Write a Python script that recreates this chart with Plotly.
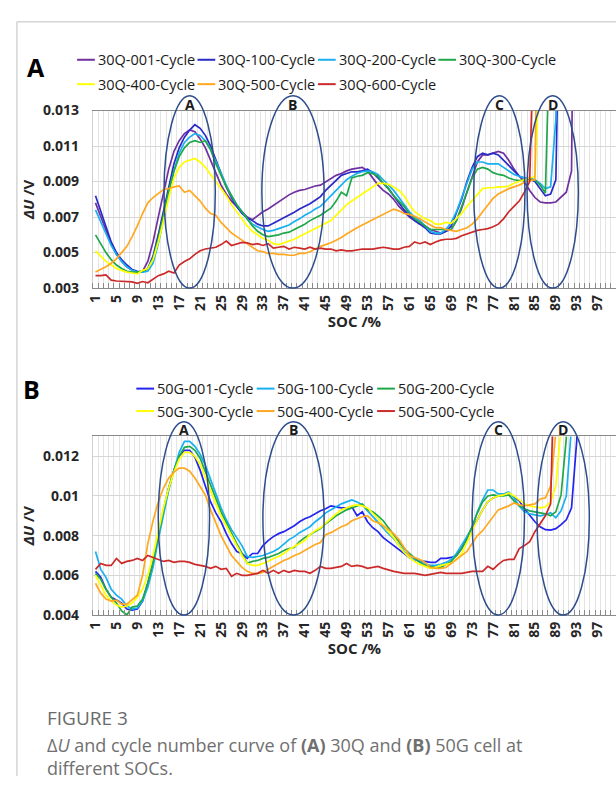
import plotly.graph_objects as go

W, H = 616, 785

# ---------------- data (values in mV) ----------------
soc = list(range(1, 101))
tick_soc = list(range(1, 100, 4))

names_a = ["30Q-001-Cycle", "30Q-100-Cycle", "30Q-200-Cycle", "30Q-300-Cycle",
           "30Q-400-Cycle", "30Q-500-Cycle", "30Q-600-Cycle"]
colors_a = ["#7030a0", "#2a2ac8", "#18b0f0", "#1fa84a", "#ffff00", "#ffa820", "#cc2a2a"]

q001 = [7.8, 7.0, 6.2, 5.5, 4.9, 4.5, 4.2, 4.0, 3.9, 3.95,
        4.5, 5.6, 7.0, 8.4, 9.7, 10.7, 11.3, 11.7, 11.9, 11.8,
        11.4, 10.9, 10.2, 9.4, 8.8, 8.3, 7.9, 7.6, 7.3, 7.0,
        6.85, 7.1, 7.3, 7.45, 7.65, 7.85, 8.1, 8.25, 8.4, 8.5,
        8.55, 8.65, 8.75, 8.8, 9.0, 9.2, 9.35, 9.45, 9.6, 9.7,
        9.75, 9.8, 9.6, 9.2, 8.8, 8.5, 8.3, 8.0, 7.6, 7.3,
        7.0, 6.8, 6.6, 6.5, 6.3, 6.2, 6.1, 6.2, 6.3, 6.8,
        7.5, 8.4, 9.3, 10.1, 10.5, 10.5, 10.6, 10.7, 10.6, 10.2,
        9.7, 9.3, 9.0, 8.5, 8.1, 7.85, 7.8, 7.8, 7.85, 8.1,
        8.4, 9.6, 40.0]
q100 = [8.2, 7.3, 6.4, 5.6, 5.0, 4.6, 4.3, 4.05, 3.95, 3.9,
        4.1, 4.8, 6.0, 7.4, 8.8, 10.0, 10.9, 11.5, 11.9, 12.2,
        12.0, 11.6, 11.0, 10.2, 9.4, 8.7, 8.1, 7.6, 7.2, 6.95,
        6.8, 6.6, 6.5, 6.5, 6.65, 6.8, 6.95, 7.1, 7.27, 7.45,
        7.6, 7.75, 7.95, 8.15, 8.5, 8.8, 9.05, 9.35, 9.45, 9.55,
        9.55, 9.6, 9.7, 9.5, 9.2, 8.9, 8.6, 8.2, 7.8, 7.4,
        7.1, 6.8, 6.6, 6.4, 6.1, 6.05, 6.05, 6.2, 6.5, 7.2,
        8.0, 9.0, 9.8, 10.4, 10.6, 10.5, 10.6, 10.5, 10.2, 9.9,
        9.6, 9.3, 9.2, 9.15, 9.0, 8.6, 8.2, 8.3, 9.1, 25.0]
q200 = [7.4, 6.7, 6.0, 5.4, 4.9, 4.5, 4.2, 4.0, 3.9, 3.9,
        3.95, 4.4, 5.5, 6.9, 8.3, 9.6, 10.6, 11.2, 11.5, 11.7,
        11.6, 11.3, 10.8, 10.1, 9.4, 8.8, 8.2, 7.7, 7.3, 6.9,
        6.6, 6.45, 6.3, 6.2, 6.25, 6.35, 6.45, 6.55, 6.75, 6.9,
        7.1, 7.25, 7.45, 7.6, 7.9, 8.2, 8.5, 8.8, 9.1, 9.3,
        9.45, 9.55, 9.6, 9.55, 9.4, 9.1, 8.8, 8.5, 8.1, 7.7,
        7.3, 7.0, 6.8, 6.5, 6.2, 6.1, 6.1, 6.3, 6.7, 7.3,
        8.1, 9.0, 9.7, 10.1, 10.1, 10.0, 10.0, 10.0, 9.8, 9.6,
        9.4, 9.3, 9.2, 9.15, 9.1, 8.9, 8.6, 8.7, 12.5, 30.0]
q300 = [6.0, 5.5, 5.0, 4.6, 4.3, 4.1, 3.95, 3.9, 3.9, 3.95,
        4.1, 4.7, 5.8, 7.1, 8.5, 9.6, 10.4, 10.9, 11.2, 11.3,
        11.2, 11.3, 10.8, 10.0, 9.3, 8.7, 8.2, 7.7, 7.3, 6.9,
        6.5, 6.2, 6.0, 5.9, 5.95, 6.0, 6.1, 6.15, 6.3, 6.45,
        6.6, 6.8, 6.95, 7.1, 7.3, 7.5, 7.9, 8.4, 8.2, 9.2,
        9.3, 9.35, 9.5, 9.45, 9.3, 8.9, 8.6, 8.2, 7.9, 7.6,
        7.2, 6.9, 6.7, 6.5, 6.3, 6.3, 6.3, 6.3, 6.3, 6.8,
        7.6, 8.4, 9.2, 9.7, 9.8, 9.7, 9.5, 9.4, 9.35, 9.2,
        9.1, 9.05, 9.1, 9.15, 9.1, 8.8, 8.35, 16.0, 30.0]
q400 = [5.1, 4.8, 4.5, 4.3, 4.1, 4.0, 3.9, 3.85, 3.8, 4.0,
        4.1, 4.6, 5.6, 6.8, 8.1, 9.2, 9.8, 10.1, 10.2, 10.3,
        10.1, 9.8, 9.4, 9.0, 8.6, 8.2, 7.7, 7.3, 6.9, 6.5,
        6.2, 6.0, 5.8, 5.7, 5.5, 5.45, 5.55, 5.65, 5.75, 5.9,
        6.05, 6.2, 6.35, 6.5, 6.65, 6.8, 7.1, 7.4, 7.7, 7.9,
        8.1, 8.3, 8.5, 8.75, 8.9, 8.9, 8.85, 8.7, 8.5, 8.2,
        7.7, 7.3, 7.1, 6.9, 6.8, 6.6, 6.6, 6.7, 6.65, 6.9,
        7.2, 7.6, 7.95, 8.3, 8.6, 8.65, 8.65, 8.7, 8.7, 8.75,
        8.9, 9.0, 9.1, 9.2, 9.3, 16.0, 30.0]
q500 = [3.9, 4.05, 4.2, 4.4, 4.65, 5.0, 5.35, 5.9, 6.5, 7.2,
        7.8, 8.1, 8.35, 8.55, 8.6, 8.7, 8.75, 8.4, 8.5, 8.2,
        7.9, 7.5, 7.2, 7.1, 6.7, 6.4, 6.1, 5.9, 5.7, 5.45,
        5.3, 5.1, 5.05, 4.95, 4.95, 4.9, 4.9, 4.85, 4.85, 4.95,
        4.95, 5.05, 5.2, 5.35, 5.45, 5.55, 5.7, 5.85, 6.05, 6.25,
        6.4, 6.55, 6.7, 6.85, 7.0, 7.15, 7.3, 7.45, 7.35, 7.2,
        7.15, 7.05, 6.9, 6.7, 6.55, 6.4, 6.4, 6.3, 6.25, 6.2,
        6.3, 6.4, 6.6, 6.9, 7.3, 7.7, 8.05, 8.3, 8.45, 8.6,
        8.7, 8.8, 8.95, 9.05, 9.1, 30.0]
q600 = [3.7, 3.7, 3.75, 3.45, 3.4, 3.37, 3.37, 3.35, 3.27, 3.37,
        3.3, 3.5, 3.7, 3.8, 3.95, 3.85, 4.3, 4.5, 4.65, 4.9,
        5.1, 5.2, 5.25, 5.3, 5.45, 5.65, 5.4, 5.5, 5.57, 5.55,
        5.45, 5.5, 5.4, 5.5, 5.25, 5.3, 5.35, 5.2, 5.3, 5.25,
        5.2, 5.3, 5.2, 5.25, 5.2, 5.2, 5.1, 5.15, 5.1, 5.1,
        5.15, 5.2, 5.2, 5.2, 5.25, 5.3, 5.25, 5.2, 5.2, 5.3,
        5.35, 5.6, 5.5, 5.6, 5.45, 5.6, 5.7, 5.75, 5.75, 5.8,
        5.95, 6.05, 6.15, 6.25, 6.3, 6.35, 6.45, 6.6, 6.9, 7.3,
        7.6, 7.9, 8.4, 9.0, 20.0]
series_a = [q001, q100, q200, q300, q400, q500, q600]

names_b = ["50G-001-Cycle", "50G-100-Cycle", "50G-200-Cycle",
           "50G-300-Cycle", "50G-400-Cycle", "50G-500-Cycle"]
colors_b = ["#2424f0", "#18b0f0", "#1fa84a", "#ffff00", "#ffa820", "#cc2a2a"]

g001 = [6.2, 5.9, 5.3, 4.9, 4.75, 4.6, 4.3, 4.25, 4.3, 4.7,
        5.6, 6.6, 8.0, 9.3, 10.4, 11.3, 12.0, 12.3, 12.3, 11.95,
        11.3, 10.5, 9.7, 9.15, 8.7, 8.1, 7.6, 7.2, 7.1, 6.85,
        7.1, 7.1, 7.5, 7.75, 7.95, 8.1, 8.2, 8.35, 8.5, 8.7,
        8.85, 8.95, 9.1, 9.25, 9.35, 9.5, 9.45, 9.4, 9.4, 9.45,
        9.0, 9.2, 8.7, 8.4, 8.2, 7.9, 7.7, 7.5, 7.3, 7.1,
        6.9, 6.8, 6.7, 6.7, 6.65, 6.65, 6.85, 6.85, 6.9, 7.0,
        7.35, 7.9, 8.4, 8.8, 9.3, 9.7, 9.9, 10.0, 10.1, 10.15,
        9.95, 9.75, 9.35, 9.0, 8.7, 8.45, 8.3, 8.28, 8.35, 8.55,
        8.8, 9.4, 12.8, 30.0]
g100 = [7.2, 6.3, 5.9, 5.3, 5.0, 4.8, 4.45, 4.3, 4.35, 4.7,
        5.4, 6.4, 7.8, 9.1, 10.3, 11.3, 12.2, 12.75, 12.75, 12.5,
        12.1, 11.55, 10.8, 10.1, 9.4, 8.8, 8.3, 7.9, 7.5, 6.95,
        6.9, 6.95, 7.0, 7.1, 7.2, 7.35, 7.6, 7.8, 7.95, 8.15,
        8.3, 8.45, 8.7, 8.9, 9.15, 9.3, 9.45, 9.6, 9.7, 9.8,
        9.7, 9.55, 9.25, 8.95, 8.7, 8.4, 8.1, 7.85, 7.5, 7.2,
        6.9, 6.8, 6.7, 6.55, 6.5, 6.5, 6.55, 6.65, 6.8, 7.1,
        7.5, 7.95, 8.4, 9.2, 9.8, 10.3, 10.3, 10.1, 10.1, 10.2,
        9.9, 9.5, 9.2, 9.1, 9.05, 9.0, 9.05, 9.15, 8.9, 9.25,
        10.0, 13.5, 30.0]
g200 = [6.1, 5.8, 5.3, 4.9, 4.6, 4.2, 4.0, 4.4, 4.45, 4.8,
        5.6, 6.7, 8.0, 9.3, 10.4, 11.3, 12.0, 12.45, 12.5, 12.3,
        11.9, 11.2, 10.5, 9.85, 9.2, 8.65, 8.1, 7.6, 7.1, 6.6,
        6.7, 6.75, 6.85, 6.9, 7.0, 7.1, 7.25, 7.35, 7.4, 7.7,
        7.9, 8.05, 8.2, 8.35, 8.6, 8.8, 9.0, 9.15, 9.3, 9.4,
        9.5, 9.6, 9.3, 9.2, 9.0, 8.75, 8.4, 8.05, 7.7, 7.35,
        7.1, 6.85, 6.65, 6.5, 6.45, 6.4, 6.4, 6.55, 6.7, 7.0,
        7.35, 7.8, 8.5, 9.15, 9.7, 10.0, 10.05, 10.0, 10.0, 10.05,
        9.75, 9.5, 9.35, 9.25, 9.2, 9.15, 9.1, 9.0, 9.2, 10.05,
        12.9, 30.0]
g300 = [6.0, 5.5, 5.0, 4.7, 4.5, 4.4, 4.45, 4.6, 4.9, 5.3,
        6.0, 7.0, 8.2, 9.4, 10.4, 11.2, 11.85, 12.2, 12.2, 12.0,
        11.6, 10.9, 10.2, 9.6, 9.0, 8.5, 8.0, 7.5, 7.0, 6.6,
        6.5, 6.5, 6.6, 6.7, 6.85, 6.95, 7.1, 7.3, 7.45, 7.6,
        7.75, 8.05, 8.25, 8.4, 8.65, 8.9, 9.1, 9.3, 9.4, 9.5,
        9.55, 9.5, 9.4, 9.15, 8.85, 8.5, 8.2, 7.9, 7.5, 7.15,
        6.9, 6.7, 6.55, 6.45, 6.35, 6.4, 6.5, 6.55, 6.6, 6.8,
        7.1, 7.65, 8.25, 8.8, 9.3, 9.7, 9.9, 10.0, 10.05, 10.15,
        10.0, 9.8, 9.6, 9.5, 9.45, 9.4, 9.45, 9.7, 10.5, 13.5,
        30.0]
g400 = [5.6, 5.1, 4.8, 4.7, 4.75, 4.55, 4.55, 4.8, 5.0, 6.0,
        7.6, 8.75, 9.7, 10.4, 10.9, 11.2, 11.4, 11.4, 11.25, 10.9,
        10.5, 10.05, 9.3, 8.6, 8.0, 7.5, 7.0, 6.7, 6.4, 6.2,
        6.1, 6.1, 6.15, 6.3, 6.45, 6.6, 6.75, 6.85, 7.0, 7.1,
        7.25, 7.4, 7.55, 7.65, 8.05, 8.15, 8.3, 8.45, 8.55, 8.75,
        8.85, 8.95, 9.0, 8.75, 8.65, 8.5, 8.3, 8.1, 7.8, 7.4,
        7.0, 6.9, 6.8, 6.65, 6.4, 6.35, 6.35, 6.4, 6.6, 6.8,
        7.0, 7.2, 7.6, 8.0, 8.25, 8.6, 8.9, 9.3, 9.4, 9.5,
        9.65, 9.55, 9.5, 9.55, 9.6, 9.85, 9.9, 10.5, 13.2, 30.0]
g500 = [6.3, 6.6, 6.5, 6.5, 6.85, 6.6, 6.7, 6.75, 6.85, 6.75,
        7.0, 6.9, 6.8, 6.7, 6.75, 6.65, 6.7, 6.7, 6.65, 6.55,
        6.5, 6.45, 6.35, 6.45, 6.3, 6.35, 5.95, 6.1, 6.0, 6.0,
        6.05, 6.1, 6.25, 6.1, 6.25, 6.1, 6.25, 6.15, 6.25, 6.2,
        6.2, 6.1, 6.25, 6.45, 6.35, 6.35, 6.4, 6.45, 6.6, 6.45,
        6.5, 6.45, 6.35, 6.4, 6.45, 6.35, 6.27, 6.2, 6.15, 6.1,
        6.1, 6.1, 6.05, 6.0, 6.05, 6.1, 6.15, 6.1, 6.1, 6.1,
        6.1, 6.15, 6.2, 6.2, 6.2, 6.45, 6.3, 6.55, 6.75, 6.8,
        6.8, 7.35, 7.5, 7.7, 8.2, 8.6, 9.0, 9.6, 15.0, 30.0]
series_b = [g001, g100, g200, g300, g400, g500]

yticks_a = [0.003, 0.005, 0.007, 0.009, 0.011, 0.013]
yticks_a_text = ["0.003", "0.005", "0.007", "0.009", "0.011", "0.013"]
yticks_b = [0.004, 0.006, 0.008, 0.010, 0.012]
yticks_b_text = ["0.004", "0.006", "0.008", "0.01", "0.012"]

# ellipse regions (SOC span) and labels
regions = ["A", "B", "C", "D"]
ell_a = [(14.1, 23.9), (32.8, 44.7), (73.3, 83.1), (83.5, 93.3)]
ell_b = [(13.0, 22.8), (33.0, 44.7), (73.0, 83.0), (85.4, 95.4)]

# ---------------- helpers ----------------
def fx(px):
    return px / W

def fy(py):
    return 1 - py / H

FONT = "Open Sans"
fig = go.Figure()

for name, col, vals in zip(names_a, colors_a, series_a):
    fig.add_trace(go.Scatter(x=soc[:len(vals)], y=[v / 1000 for v in vals],
                             mode="lines", name=name, line=dict(color=col, width=1.7),
                             xaxis="x", yaxis="y", showlegend=False))
for name, col, vals in zip(names_b, colors_b, series_b):
    fig.add_trace(go.Scatter(x=soc[:len(vals)], y=[v / 1000 for v in vals],
                             mode="lines", name=name, line=dict(color=col, width=1.7),
                             xaxis="x2", yaxis="y2", showlegend=False))

tickfont = dict(family=FONT, size=14, color="#262626", weight="bold")

def xaxis_cfg(anchor):
    return dict(domain=[fx(86), 1.0], anchor=anchor, range=[0.5, 100.5],
                tickmode="array", tickvals=tick_soc, ticktext=[str(t) for t in tick_soc],
                tickangle=-90, tickfont=tickfont, ticks="", showgrid=False,
                showline=True, linecolor="#8a8a8a", linewidth=1.4, mirror=True,
                zeroline=False,
                minor=dict(tickmode="linear", tick0=0.5, dtick=1, ticks="inside",
                           ticklen=5, tickcolor="#8a8a8a", showgrid=True,
                           gridcolor="#e4e4e4", gridwidth=1),
                title=dict(text="<b>SOC /%</b>", font=dict(family=FONT, size=15, color="#262626"),
                           standoff=4))

def yaxis_cfg(anchor, dom, rng, tv, tt):
    return dict(domain=dom, anchor=anchor, range=rng, tickmode="array",
                tickvals=tv, ticktext=tt, tickfont=tickfont, ticks="",
                ticklabelstandoff=10, showgrid=True, gridcolor="#d6d6d6", gridwidth=1,
                showline=True, linecolor="#d0d0d0", linewidth=1, zeroline=False,
                title=dict(text="<b><i>ΔU</i> /V</b>", font=dict(family=FONT, size=15, color="#262626"),
                           standoff=4))

shapes = []
annotations = []

# page frame
shapes.append(dict(type="line", xref="paper", yref="paper", x0=fx(9), x1=1.0, y0=fy(12), y1=fy(12),
                   line=dict(color="#d4d4d4", width=1.5)))
shapes.append(dict(type="line", xref="paper", yref="paper", x0=fx(9), x1=fx(9), y0=fy(12), y1=0,
                   line=dict(color="#d4d4d4", width=1.5)))

# ellipses
def add_ellipses(spans, xref, top, bottom, label_y):
    for lab, (a, b) in zip(regions, spans):
        shapes.append(dict(type="circle", xref=xref, yref="paper", x0=a, x1=b,
                           y0=fy(bottom), y1=fy(top),
                           line=dict(color="#2e4d8c", width=1.5)))
        annotations.append(dict(text="<b>%s</b>" % lab, xref=xref, yref="paper",
                                x=(a + b) / 2, y=fy(label_y), showarrow=False,
                                font=dict(family=FONT, size=14, color="#1a1a1a"),
                                xanchor="center", yanchor="middle"))

add_ellipses(ell_a, "x", 88, 285, 97)
add_ellipses(ell_b, "x2", 422, 620, 430)

# legends
def add_legend(names, colors, ncol, x_start, rows_y):
    for i, (nm, col) in enumerate(zip(names, colors)):
        r, c = divmod(i, ncol)
        x0 = x_start + c * 122
        y = rows_y[r]
        shapes.append(dict(type="line", xref="paper", yref="paper", x0=fx(x0), x1=fx(x0 + 18),
                           y0=fy(y), y1=fy(y), line=dict(color=col, width=2)))
        annotations.append(dict(text=nm, xref="paper", yref="paper", x=fx(x0 + 19), y=fy(y),
                                showarrow=False, xanchor="left", yanchor="middle",
                                font=dict(family=FONT, size=14.5, color="#1a1a1a")))

add_legend(names_a, colors_a, 4, 70, [51, 76])
add_legend(names_b, colors_b, 3, 130, [388, 411])

# panel letters
annotations.append(dict(text="<b>A</b>", xref="paper", yref="paper", x=fx(28), y=fy(58),
                        showarrow=False, font=dict(family=FONT, size=25, color="#000000"),
                        xanchor="center", yanchor="middle"))
annotations.append(dict(text="<b>B</b>", xref="paper", yref="paper", x=fx(24), y=fy(388),
                        showarrow=False, font=dict(family=FONT, size=25, color="#000000"),
                        xanchor="center", yanchor="middle"))

# caption
annotations.append(dict(text="FIGURE 3", xref="paper", yref="paper", x=fx(39), y=fy(726),
                        showarrow=False, xanchor="left", yanchor="middle", borderpad=0,
                        font=dict(family=FONT, size=19, color="#6a6a6a")))
annotations.append(dict(text="Δ<i>U</i> and cycle number curve of <b>(A)</b> 30Q and <b>(B)</b> 50G cell at"
                             "<br>different SOCs.",
                        xref="paper", yref="paper", x=fx(39), y=fy(740), align="left",
                        showarrow=False, xanchor="left", yanchor="top", borderpad=0,
                        font=dict(family=FONT, size=18, color="#707070")))

fig.update_layout(
    width=W, height=H, margin=dict(l=0, r=0, t=0, b=0),
    paper_bgcolor="white", plot_bgcolor="white", showlegend=False,
    xaxis=xaxis_cfg("y"),
    yaxis=yaxis_cfg("x", [fy(285), fy(103)], [0.003, 0.013], yticks_a, yticks_a_text),
    xaxis2=xaxis_cfg("y2"),
    yaxis2=yaxis_cfg("x2", [fy(620), fy(437)], [0.004, 0.013], yticks_b, yticks_b_text),
    shapes=shapes, annotations=annotations,
    font=dict(family=FONT),
)

fig.write_html("out.html", config={"displayModeBar": False},
               post_script="document.body.style.margin='0';document.body.style.overflow='hidden';")
